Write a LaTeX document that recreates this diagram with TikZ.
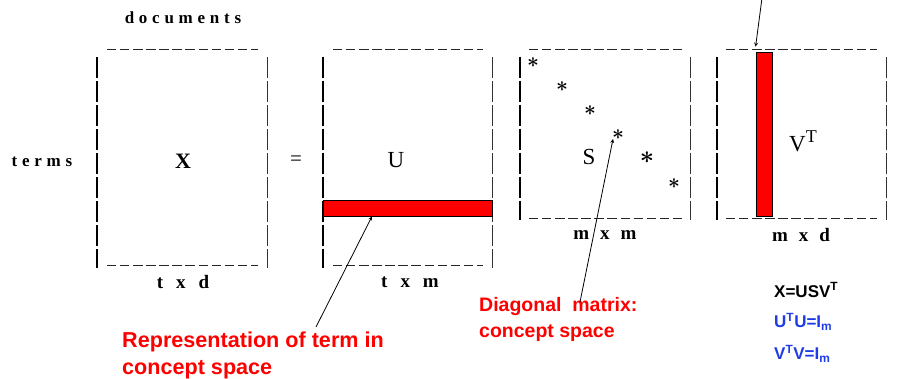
\documentclass[tikz,border=0pt]{standalone}
\usepackage{fontspec}
\setmainfont{Liberation Serif}
\newfontfamily\labfont{Liberation Sans}
\newfontfamily\spacedfont[LetterSpace=28]{Liberation Serif}
\usetikzlibrary{arrows,positioning}
\definecolor{eqblue}{RGB}{30,60,230}

\tikzset{
  matbox/.style={inner sep=0pt, minimum width=170pt},
  leftedge/.style={line width=2.6pt, dash pattern=on 21pt off 3pt},
  rightedge/.style={line width=1.3pt, black!80, dash pattern=on 21pt off 3pt},
  hedge/.style={line width=1.3pt, black!85, dash pattern=on 9.5pt off 3.6pt},
  redbar/.style={draw=black, fill=red, line width=0.8pt, inner sep=0pt},
  matname/.style={font=\fontsize{23}{23}\selectfont},
  dimtext/.style={font=\bfseries\fontsize{19}{19}\selectfont},
  diagstar/.style={font=\boldmath\fontsize{20}{20}\selectfont, inner sep=0pt},
  note/.style={font=\labfont\bfseries, text=red, align=left, inner sep=0pt, anchor=north west},
  eqn/.style={font=\labfont\bfseries\fontsize{17}{17}\selectfont, anchor=west, inner sep=0pt},
  pointer/.style={-stealth, line width=0.8pt}
}

\begin{document}
\begin{tikzpicture}[x=1pt, y=-1pt]
    \useasboundingbox (0,0) rectangle (905,379);

    % Matrix X
    \node[matbox, minimum height=218pt] (X) at (182,159) {};
    \draw[leftedge] ([yshift=-7pt]X.north west) -- (X.south west);
    \draw[rightedge] ([yshift=-7pt]X.north east) -- (X.south east);
    \draw[hedge] ([xshift=10pt]X.north west) -- ([xshift=-9pt]X.north east);
    \draw[hedge] ([xshift=10pt,yshift=3pt]X.south west) -- ([xshift=-9pt,yshift=3pt]X.south east);
    \node[font=\spacedfont\bfseries\fontsize{17}{17}\selectfont] (docs) at (183,18) {documents};
    \node[font=\spacedfont\bfseries\fontsize{17}{17}\selectfont] (terms) at (42,162) {terms};
    \node[font=\bfseries\fontsize{22}{22}\selectfont] (xname) at (183,161) {X};
    \node[dimtext] (xdim) at (183,282) {t\hspace{13pt}x\hspace{13pt}d};

    \node[font=\fontsize{21}{21}\selectfont] (eq) at (296,161) {=};

    % Matrix U
    \node[matbox, minimum width=169pt, minimum height=218pt] (U) at (407.5,159) {};
    \draw[leftedge] ([yshift=-7pt]U.north west) -- (U.south west);
    \draw[rightedge] ([yshift=-7pt]U.north east) -- (U.south east);
    \draw[hedge] ([xshift=10pt]U.north west) -- ([xshift=-9pt]U.north east);
    \draw[hedge] ([xshift=10pt,yshift=3pt]U.south west) -- ([xshift=-9pt,yshift=3pt]U.south east);
    \node[redbar, minimum width=169pt, minimum height=16pt] (ubar) at (407.5,208) {};
    \node[matname] (uname) at (396,160) {U};
    \node[dimtext] (udim) at (410,282) {t\hspace{13pt}x\hspace{13pt}m};

    % Matrix S
    \node[matbox, minimum height=170pt] (S) at (605,135) {};
    \draw[leftedge] ([yshift=-7pt]S.north west) -- (S.south west);
    \draw[rightedge] ([yshift=-7pt]S.north east) -- (S.south east);
    \draw[hedge] ([xshift=9pt]S.north west) -- ([xshift=-8pt]S.north east);
    \draw[hedge] ([xshift=9pt,yshift=2pt]S.south west) -- ([xshift=-8pt,yshift=2pt]S.south east);
    \node[diagstar] (s1) at (533,63) {$\ast$};
    \node[diagstar] (s2) at (562,87) {$\ast$};
    \node[diagstar] (s3) at (590,111) {$\ast$};
    \node[diagstar] (s4) at (618,135) {$\ast$};
    \node[diagstar, font=\boldmath\fontsize{24}{24}\selectfont] (s5) at (647,158) {$\ast$};
    \node[diagstar] (s6) at (674,184) {$\ast$};
    \node[matname] (sname) at (589,157) {S};
    \node[dimtext] (sdim) at (605,235) {m\hspace{11pt}x\hspace{11pt}m};

    % Matrix V transposed
    \node[matbox, minimum width=169pt, minimum height=170pt] (V) at (801.5,135) {};
    \draw[leftedge] ([yshift=-7pt]V.north west) -- (V.south west);
    \draw[rightedge] ([yshift=-7pt]V.north east) -- (V.south east);
    \draw[hedge] ([xshift=9pt]V.north west) -- ([xshift=-9pt]V.north east);
    \draw[hedge] ([xshift=9pt,yshift=2pt]V.south west) -- ([xshift=-9pt,yshift=2pt]V.south east);
    \node[redbar, minimum width=16pt, minimum height=164pt] (vbar) at (764,134) {};
    \node[matname] (vname) at (803,141) {V\raisebox{9pt}{\fontsize{18}{18}\selectfont T}};
    \node[dimtext] (vdim) at (801,235) {m\hspace{11pt}x\hspace{11pt}d};
    \coordinate (vtail) at (762,-2);

    % Red notes
    \node[note, font=\labfont\bfseries\fontsize{21.6}{27}\selectfont] (rep) at (122,332) {Representation of term in\\concept space};
    \node[note, font=\labfont\bfseries\fontsize{19.5}{26}\selectfont] (diag) at (479,297) {Diagonal\ \ matrix:\\concept\ space};

    % Equations
    \node[eqn] (eq1) at (774,290) {X=USV\textsuperscript{T}};
    \node[eqn, text=eqblue] (eq2) at (774,322) {U\textsuperscript{T}U=I\textsubscript{m}};
    \node[eqn, text=eqblue] (eq3) at (774,354) {V\textsuperscript{T}V=I\textsubscript{m}};

    % Arrows
    \draw[pointer] ([xshift=194pt,yshift=5pt]rep.north west) -- ([xshift=-35.5pt]ubar.south);
    \draw[pointer] ([xshift=101pt,yshift=-5pt]diag.north west) -- ([xshift=-5pt,yshift=-4pt]s4.center);
    \draw[pointer] (vtail) -- ([yshift=5pt]vbar.north west);
\end{tikzpicture}
\end{document}
